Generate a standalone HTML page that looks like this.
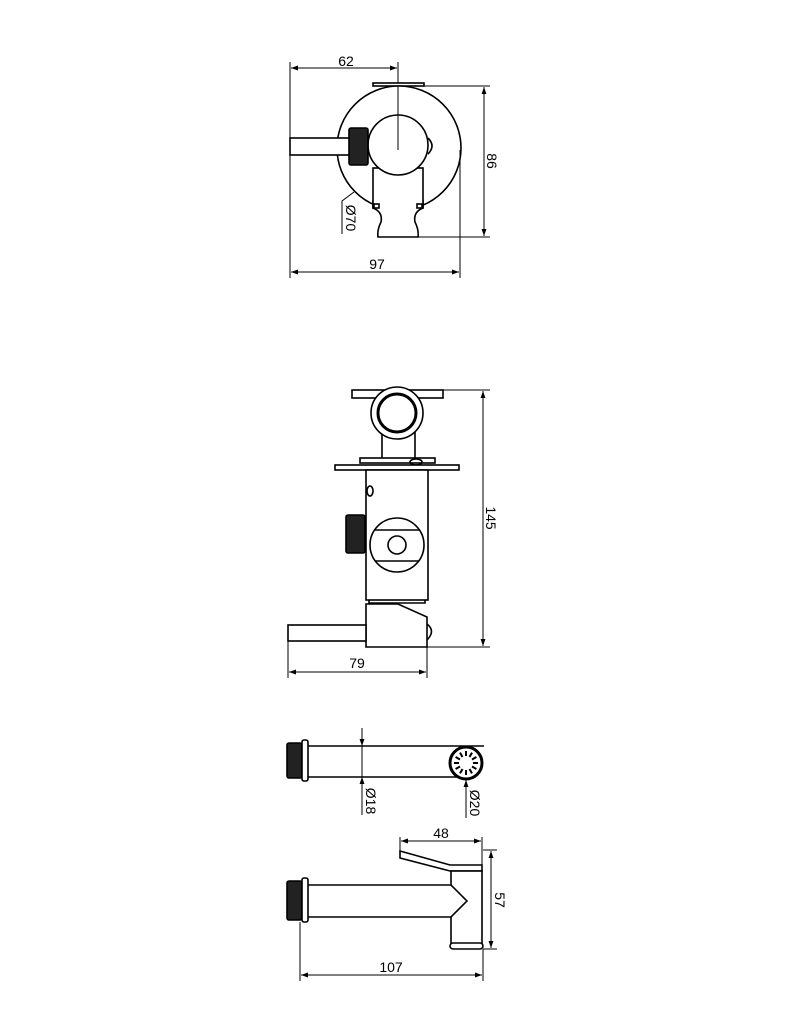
<!DOCTYPE html>
<html><head><meta charset="utf-8"><style>
html,body{margin:0;padding:0;background:#fff}
svg{display:block}
text{font-family:"Liberation Sans",sans-serif;font-size:14px;fill:#000}
</style></head><body>
<svg width="794" height="1024" viewBox="0 0 794 1024" xmlns="http://www.w3.org/2000/svg">
<defs>
<marker id="a" viewBox="0 0 10 10" refX="10" refY="5" markerWidth="10" markerHeight="7" orient="auto-start-reverse" markerUnits="userSpaceOnUse"><path d="M0,1.5 L10,5 L0,8.5 z" fill="#000"/></marker>
</defs>
<g fill="none" stroke="#000" stroke-width="1.6">
<!-- ===== View 1 ===== -->
<line x1="290" y1="62" x2="290" y2="278" stroke-width="1"/>
<line x1="398" y1="62" x2="398" y2="150" stroke-width="1"/>
<line x1="291" y1="68" x2="397" y2="68" marker-start="url(#a)" marker-end="url(#a)" stroke-width="1"/>
<rect x="373" y="83" width="51" height="3" fill="#fff"/>
<circle cx="399" cy="148" r="62" fill="#fff"/>
<rect x="373" y="168" width="50" height="40" fill="#fff"/>
<path d="M373,200 L373,208 Q383,212 381,222 Q377,230 378,237 L418,237 Q419,230 415,222 Q413,212 423,208 L423,200" fill="#fff"/>
<rect x="374" y="204" width="5" height="4" />
<rect x="417" y="204" width="5" height="4" />
<circle cx="398" cy="145" r="30" fill="#fff"/>
<line x1="398" y1="86" x2="398" y2="150" stroke-width="1"/>
<path d="M428,138 Q436,146 428,154" />
<rect x="290" y="138" width="62" height="17" fill="#fff"/>
<rect x="349" y="128" width="19" height="37" fill="#222" rx="2"/>
<line x1="424" y1="86" x2="490" y2="86" stroke-width="1"/>
<line x1="418" y1="237" x2="490" y2="237" stroke-width="1"/>
<line x1="484" y1="87" x2="484" y2="236" marker-start="url(#a)" marker-end="url(#a)" stroke-width="1"/>
<line x1="460" y1="150" x2="460" y2="278" stroke-width="1"/>
<line x1="291" y1="272" x2="459" y2="272" marker-start="url(#a)" marker-end="url(#a)" stroke-width="1"/>
<polyline points="354,192 342,201 342,234" stroke-width="1"/>
<!-- ===== View 2 ===== -->
<rect x="352" y="390" width="91" height="8" fill="#fff"/>
<rect x="382" y="428" width="33" height="32" fill="#fff"/>
<circle cx="397" cy="413" r="26" fill="#fff"/>
<circle cx="397" cy="413" r="19" stroke-width="3"/>
<rect x="360" y="458" width="75" height="5" fill="#fff"/>
<ellipse cx="416" cy="462" rx="6" ry="3"/>
<rect x="335" y="465" width="124" height="5" fill="#fff"/>
<rect x="366" y="470" width="62" height="130" fill="#fff"/>
<ellipse cx="370" cy="491" rx="3" ry="5"/>
<rect x="346" y="515" width="19" height="38" fill="#222" rx="2"/>
<circle cx="397" cy="545" r="27" fill="#fff"/>
<line x1="375" y1="530" x2="419" y2="530"/>
<line x1="375" y1="561" x2="419" y2="561"/>
<circle cx="397" cy="545" r="9"/>
<path d="M369,600 L369,603 L425,603 L425,600"/>
<path d="M366,647 L366,604 L398,604 L427,617 L427,647 Z" fill="#fff"/>
<path d="M427,624 Q436,631 427,640"/>
<rect x="288" y="625" width="78" height="16" fill="#fff"/>
<line x1="443" y1="390" x2="490" y2="390" stroke-width="1"/>
<line x1="427" y1="647" x2="490" y2="647" stroke-width="1"/>
<line x1="483" y1="391" x2="483" y2="646" marker-start="url(#a)" marker-end="url(#a)" stroke-width="1"/>
<line x1="288" y1="641" x2="288" y2="678" stroke-width="1"/>
<line x1="427" y1="647" x2="427" y2="678" stroke-width="1"/>
<line x1="289" y1="672" x2="426" y2="672" marker-start="url(#a)" marker-end="url(#a)" stroke-width="1"/>
<!-- ===== View 3 ===== -->
<rect x="287" y="743" width="15" height="35" fill="#222" rx="2"/>
<rect x="302" y="740" width="6" height="41" rx="2" fill="#fff"/>
<line x1="308" y1="746" x2="484" y2="746"/>
<line x1="308" y1="777" x2="470" y2="777"/>
<circle cx="466" cy="763" r="16" fill="#fff" stroke-width="3"/>
<g stroke-width="2">
<line x1="466" y1="751" x2="466" y2="756"/><line x1="466" y1="770" x2="466" y2="775"/>
<line x1="454" y1="763" x2="459" y2="763"/><line x1="473" y1="763" x2="478" y2="763"/>
<line x1="472" y1="752.6" x2="469.5" y2="757"/><line x1="460" y1="773.4" x2="462.5" y2="769"/>
<line x1="476.4" y1="757" x2="472" y2="759.5"/><line x1="455.6" y1="769" x2="460" y2="766.5"/>
<line x1="460" y1="752.6" x2="462.5" y2="757"/><line x1="472" y1="773.4" x2="469.5" y2="769"/>
<line x1="455.6" y1="757" x2="460" y2="759.5"/><line x1="476.4" y1="769" x2="472" y2="766.5"/>
</g>
<line x1="362" y1="728" x2="362" y2="815" stroke-width="1"/>
<line x1="362" y1="733" x2="362" y2="746" marker-end="url(#a)" stroke-width="1"/>
<line x1="362" y1="790" x2="362" y2="777" marker-end="url(#a)" stroke-width="1"/>
<line x1="466" y1="818" x2="466" y2="780" marker-end="url(#a)" stroke-width="1"/>
<!-- ===== View 4 ===== -->
<line x1="400" y1="837" x2="400" y2="852" stroke-width="1"/>
<line x1="482" y1="837" x2="482" y2="866" stroke-width="1"/>
<line x1="401" y1="841" x2="481" y2="841" marker-start="url(#a)" marker-end="url(#a)" stroke-width="1"/>
<path d="M400,851 L450,865 L482,865 L482,871 L450,871 L400,858 Z" fill="#fff"/>
<rect x="451" y="871" width="31" height="73" fill="#fff"/>
<rect x="450" y="943" width="33" height="6" rx="3" fill="#fff"/>
<path d="M308,885 L451,885 L467,901 L451,917 L308,917" fill="#fff"/>
<rect x="287" y="881" width="15" height="39" fill="#222" rx="2"/>
<rect x="302" y="878" width="6" height="44" rx="2" fill="#fff"/>
<line x1="483" y1="850" x2="497" y2="850" stroke-width="1"/>
<line x1="483" y1="949" x2="497" y2="949" stroke-width="1"/>
<line x1="491" y1="851" x2="491" y2="948" marker-start="url(#a)" marker-end="url(#a)" stroke-width="1"/>
<line x1="300" y1="922" x2="300" y2="981" stroke-width="1"/>
<line x1="483" y1="949" x2="483" y2="981" stroke-width="1"/>
<line x1="301" y1="975" x2="482" y2="975" marker-start="url(#a)" marker-end="url(#a)" stroke-width="1"/>
</g>
<!-- text -->
<text x="346" y="66" text-anchor="middle">62</text>
<text x="377" y="269" text-anchor="middle">97</text>
<text transform="translate(487,161) rotate(90)" text-anchor="middle">86</text>
<text transform="translate(346,218) rotate(90)" text-anchor="middle">Ø70</text>
<text transform="translate(486,518) rotate(90)" text-anchor="middle">145</text>
<text x="357" y="668" text-anchor="middle">79</text>
<text transform="translate(366,801) rotate(90)" text-anchor="middle">Ø18</text>
<text transform="translate(470,803) rotate(90)" text-anchor="middle">Ø20</text>
<text x="441" y="838" text-anchor="middle">48</text>
<text transform="translate(495,900) rotate(90)" text-anchor="middle">57</text>
<text x="391" y="972" text-anchor="middle">107</text>
</svg>
</body></html>
